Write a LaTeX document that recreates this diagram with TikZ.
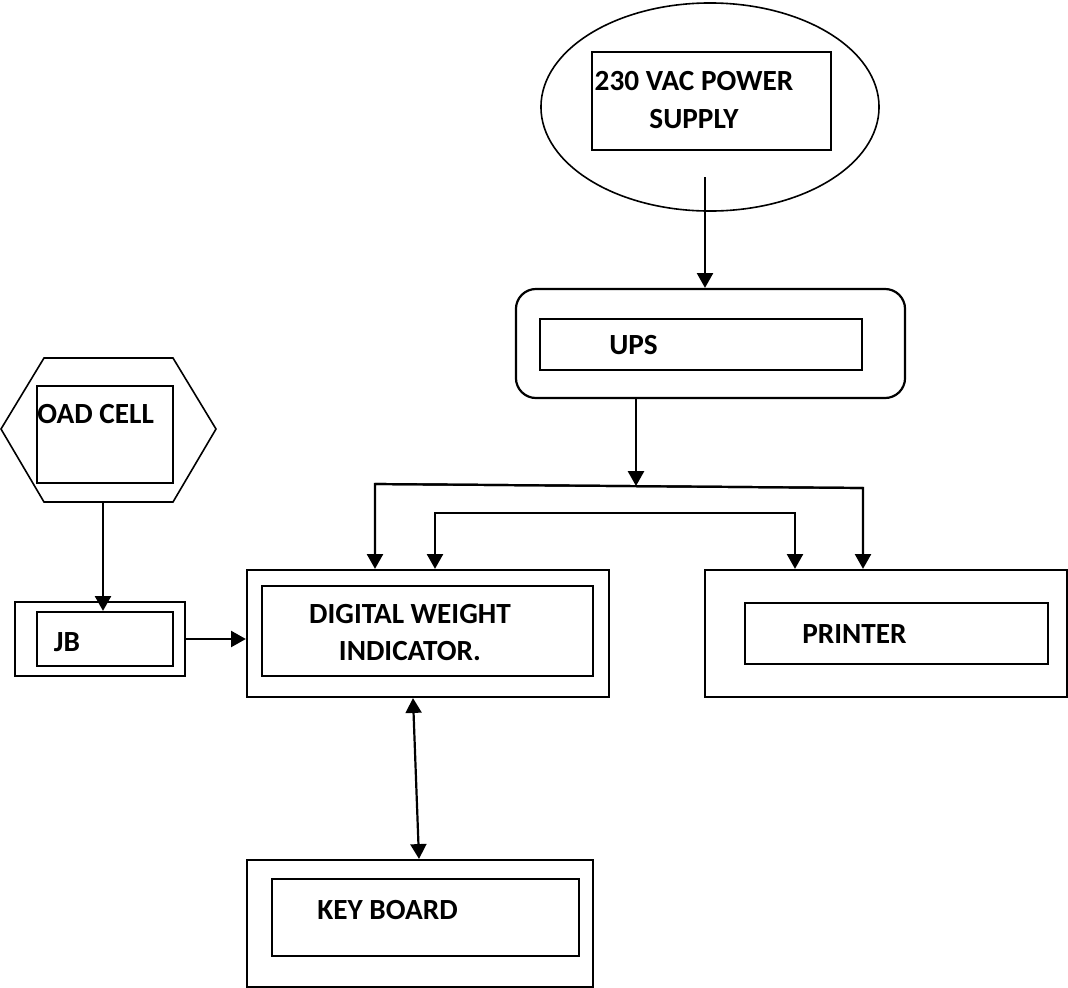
\documentclass[tikz,border=0pt]{standalone}
\usepackage{fontspec}
\setmainfont{Carlito}
\usetikzlibrary{calc,arrows.meta,shapes.geometric}

\begin{document}
\begin{tikzpicture}[x=0.025cm, y=-0.025cm,
		frame/.style={draw, line width=0.55mm, inner sep=0pt},
		lbl/.style={font=\bfseries\fontsize{20.8}{26.5}\selectfont, align=center, inner sep=0pt},
		arr/.style={line width=0.55mm, -{Triangle[length=0.37cm, width=0.4cm]}},
		dblarr/.style={line width=0.55mm, {Triangle[length=0.37cm, width=0.4cm]}-{Triangle[length=0.37cm, width=0.4cm]}}]
			%%%%% START %%%%%
			
			\useasboundingbox (0, 0) rectangle (1068, 988);
			
			% power supply
			\node[ellipse, draw, line width=0.4mm, minimum width=8.45cm, minimum height=5.2cm, inner sep=0pt] (mains) at (710, 107) {};
			\node[frame, line width=0.45mm, minimum width=5.975cm, minimum height=2.45cm] (mainsbox) at (711.5, 101) {};
			\node[lbl] (mainstxt) at (694, 100) {230 VAC POWER\\SUPPLY};
			\coordinate (mainsout) at (705, 177);
			
			% ups
			\node[frame, rounded corners=0.5cm, minimum width=9.725cm, minimum height=2.725cm] (ups) at (710.5, 343.5) {};
			\node[frame, minimum width=8.05cm, minimum height=1.275cm] (upsbox) at (701, 344.5) {};
			\node[lbl] (upstxt) at (633.5, 345) {UPS};
			
			% load cell
			\draw[line width=0.4mm] (1, 429) -- (44, 358) -- (173, 358) -- (216, 429) -- (173, 502) -- (44, 502) -- cycle;
			\node[frame, minimum width=3.4cm, minimum height=2.425cm] (cell) at (105, 434.5) {};
			\node[lbl, anchor=west] (celltxt) at (37, 414.5) {OAD CELL};
			\coordinate (cellout) at (103, 502);
			
			% junction box
			\node[frame, minimum width=4.25cm, minimum height=1.85cm] (jb) at (100, 639) {};
			\node[frame, minimum width=3.4cm, minimum height=1.35cm] (jbbox) at (105, 639) {};
			\node[lbl] (jbtxt) at (67, 642) {JB};
			
			% indicator
			\node[frame, minimum width=9.05cm, minimum height=3.175cm] (dwi) at (428, 633.5) {};
			\node[frame, minimum width=8.275cm, minimum height=2.25cm] (dwibox) at (427.5, 631) {};
			\node[lbl] (dwitxt) at (410, 632.5) {DIGITAL WEIGHT\\INDICATOR.};
			
			% printer
			\node[frame, minimum width=9.05cm, minimum height=3.175cm] (prn) at (886, 633.5) {};
			\node[frame, minimum width=7.575cm, minimum height=1.525cm] (prnbox) at (896.5, 633.5) {};
			\node[lbl] (prntxt) at (854.5, 634) {PRINTER};
			
			% keyboard
			\node[frame, minimum width=8.65cm, minimum height=3.175cm] (kbd) at (420, 923.5) {};
			\node[frame, minimum width=7.675cm, minimum height=1.925cm] (kbdbox) at (425.5, 917.5) {};
			\node[lbl] (kbdtxt) at (387.5, 909.5) {KEY BOARD};
			
			% connections
			\coordinate (split) at (636, 486);
			\coordinate (feedL) at (375, 484);
			\coordinate (feedR) at (863, 488);
			\coordinate (busL) at (435, 513);
			\coordinate (busR) at (795, 513);
			
			\draw[arr] (mainsout) -- (mainsout |- ups.north);
			\draw[arr] (ups.south -| split) -- (split);
			\draw[arr] (feedR) -- (feedL) -- (feedL |- dwi.north);
			\draw[arr] (feedL) -- (feedR) -- (feedR |- prn.north);
			\draw[arr] (busR) -- (busL) -- (busL |- dwi.north);
			\draw[arr] (busL) -- (busR) -- (busR |- prn.north);
			\draw[arr] (cellout) -- (cellout |- jbbox.north);
			\draw[arr] (jb.east) -- (jb.east -| dwi.west);
			\draw[dblarr] ($(dwi.south)+(-15, 0)$) -- ($(kbd.north)+(-1, 0)$);
			
			%%%%% END %%%%%
\end{tikzpicture}
\end{document}
